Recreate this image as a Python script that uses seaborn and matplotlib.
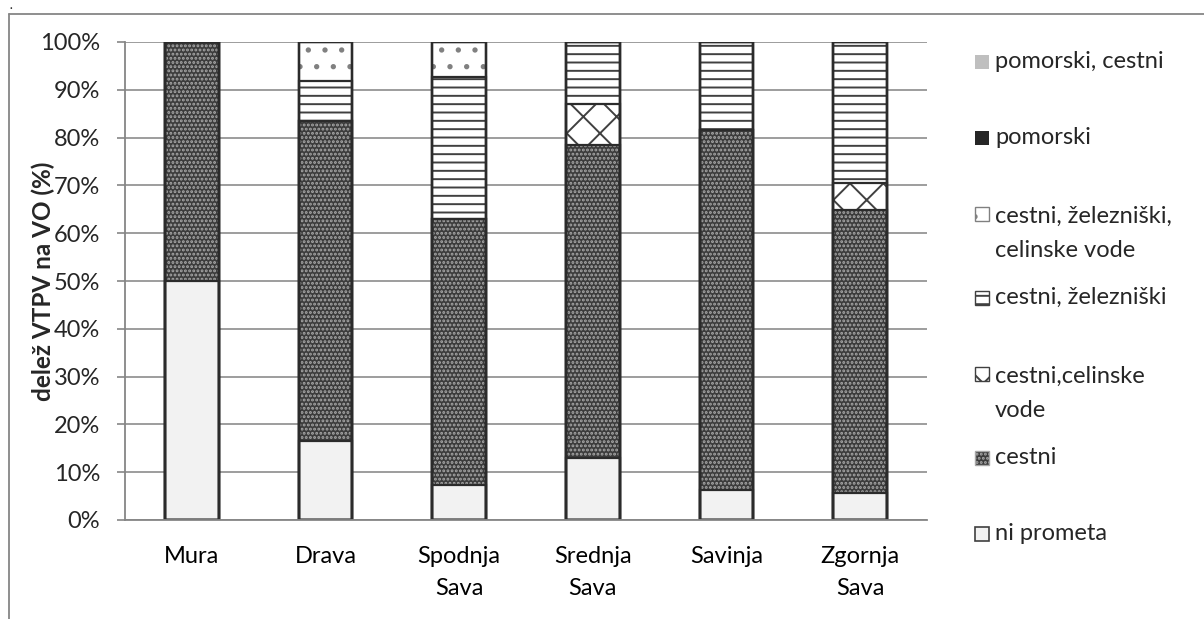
import matplotlib
matplotlib.use("Agg")
import matplotlib.pyplot as plt
import matplotlib.patches as mpatches
from matplotlib.lines import Line2D
import pandas as pd
import seaborn as sns

# data (% of VTPV per river basin)
regions = ["Mura", "Drava", "Spodnja\nSava", "Srednja\nSava", "Savinja", "Zgornja\nSava"]
ni_prometa = [50.0, 16.5, 7.3, 12.9, 6.2, 5.7]
cestni = [50.0, 67.0, 55.7, 65.6, 75.4, 59.2]
cestni_celinske = [0.0, 0.0, 0.0, 8.5, 0.0, 5.7]
cestni_zelezniski = [0.0, 8.3, 29.7, 13.0, 18.4, 29.4]
cestni_zel_cel = [0.0, 8.2, 7.3, 0.0, 0.0, 0.0]
pomorski = [0.0, 0.0, 0.0, 0.0, 0.0, 0.0]
pomorski_cestni = [0.0, 0.0, 0.0, 0.0, 0.0, 0.0]

# bottom -> top
layers = [
    ("ni prometa", ni_prometa),
    ("cestni", cestni),
    ("cestni,celinske\nvode", cestni_celinske),
    ("cestni, železniški", cestni_zelezniski),
    ("cestni, železniški,\ncelinske vode", cestni_zel_cel),
    ("pomorski", pomorski),
    ("pomorski, cestni", pomorski_cestni),
]

# face colour, hatch colour, hatch
styles = {
    "ni prometa": ("#f2f2f2", "#f2f2f2", ""),
    "cestni": ("#3c3c3c", "#a8a8a8", "...."),
    "cestni,celinske\nvode": ("white", "#404040", "x"),
    "cestni, železniški": ("white", "#404040", "--"),
    "cestni, železniški,\ncelinske vode": ("white", "#808080", "."),
    "pomorski": ("#262626", "#262626", ""),
    "pomorski, cestni": ("#bfbfbf", "#bfbfbf", ""),
}

FS = 17
W, H = 1204, 619

sns.set_style("white")
plt.rcParams["font.family"] = ["Lato", "DejaVu Sans"]
plt.rcParams["hatch.linewidth"] = 1.4

fig = plt.figure(figsize=(W / 100, H / 100), dpi=100)
ax = fig.add_axes([125 / W, 1 - 520 / H, 802 / W, 478 / H])

df = pd.DataFrame({"region": regions})
running = [0.0] * len(regions)
cum = []
for name, vals in layers:
    running = [a + b for a, b in zip(running, vals)]
    cum.append((name, list(running)))

# draw tallest cumulative first, lower layers on top
for name, tops in reversed(cum):
    face, hc, hatch = styles[name]
    df["top"] = tops
    sns.barplot(data=df, x="region", y="top", color=face, saturation=1,
                width=0.4, errorbar=None, edgecolor=hc, linewidth=0,
                hatch=hatch, ax=ax)

# segment outlines
for p in list(ax.patches):
    ax.add_patch(mpatches.Rectangle(p.get_xy(), p.get_width(), p.get_height(),
                                    fill=False, ec="#2b2b2b", lw=1.6, zorder=2))

ax.set_ylim(0, 100)
ax.set_xlim(-0.5, len(regions) - 0.5)
ax.set_yticks(range(0, 101, 10))
ax.set_yticklabels([f"{t}%" for t in range(0, 101, 10)])
ax.set_xticks(range(len(regions)))
ax.set_xticklabels(regions, linespacing=1.6)
ax.set_xticks([i - 0.5 for i in range(len(regions) + 1)], minor=True)
ax.tick_params(axis="x", which="major", length=0, pad=19, labelsize=FS, colors="black")
ax.tick_params(axis="x", which="minor", length=6, width=1.2, color="#868686", direction="out")
ax.tick_params(axis="y", length=6, width=1.2, color="#868686", pad=12, labelsize=FS,
               direction="out", left=True)
ax.set_xlabel("")
ax.set_ylabel("delež VTPV na VO (%)", fontsize=17.5, fontweight="bold")
ax.yaxis.set_label_coords(-0.087, 0.5)

ax.grid(axis="y", color="#8c8c8c", lw=1.2)
ax.set_axisbelow(True)
for s in ["top", "right"]:
    ax.spines[s].set_visible(False)
for s in ["left", "bottom"]:
    ax.spines[s].set_color("#868686")
    ax.spines[s].set_linewidth(1.3)

# legend, top entry first; Excel-like even slots, first line level with the key
LINE = 37  # px between wrapped legend lines
y = 62
for name, _ in reversed(layers):
    face, hc, hatch = styles[name]
    if name == "ni prometa":
        kw = dict(facecolor=face, edgecolor="#404040", lw=1.2)
    elif hatch:
        kw = dict(facecolor=face, edgecolor=hc, hatch=hatch, lw=1.0)
    else:
        kw = dict(facecolor=face, edgecolor=face, lw=0)
    extra = name.count("\n")
    fig.add_artist(mpatches.Rectangle((975 / W, 1 - (y + 7) / H), 14 / W, 14 / H,
                                      transform=fig.transFigure, **kw))
    # baseline of a wrapped text is its last line
    fig.text(995 / W, 1 - (y + 6 + LINE * extra) / H, name, fontsize=FS,
             va="baseline", ha="left", linespacing=1.8)
    y += 76 + 8 * extra

# outer chart frame (only left and top show)
fig.add_artist(Line2D([9 / W, 9 / W], [0, 1 - 14 / H], transform=fig.transFigure,
                      color="#868686", lw=1.3))
fig.add_artist(Line2D([9 / W, 1], [1 - 14 / H, 1 - 14 / H], transform=fig.transFigure,
                      color="#868686", lw=1.3))
fig.text(10 / W, 1 - 9 / H, ".", fontsize=8, fontweight="bold", va="baseline")

fig.savefig("out.png", dpi=100)
